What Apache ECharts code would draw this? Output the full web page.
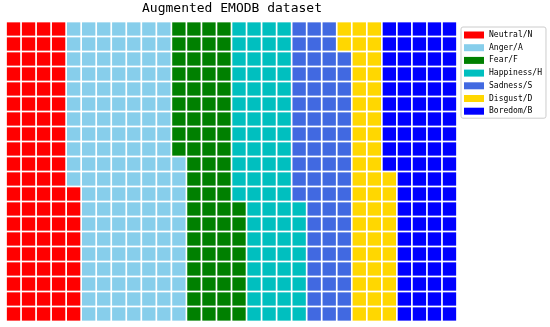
<!DOCTYPE html>
<html>
<head>
<meta charset="utf-8">
<script src="https://cdn.jsdelivr.net/npm/echarts@6/dist/echarts.min.js"></script>
<style>
  html, body { margin: 0; padding: 0; background: #fff; }
  #main { width: 550px; height: 327px; }
</style>
</head>
<body>
<div id="main"></div>
<script>
// waffle: 30 columns x 20 rows, filled column by column from bottom-left
const categories = ['Neutral/N', 'Anger/A', 'Fear/F', 'Happiness/H', 'Sadness/S', 'Disgust/D', 'Boredom/B']
const counts = [89, 142, 77, 80, 70, 52, 90]
const colors = ['#ff0000', '#87ceeb', '#008000', '#00bfbf', '#4169e1', '#ffd700', '#0000ff']
const nRows = 20
const nCols = 30

const myChart = echarts.init(document.getElementById('main'))

// split block indices into cells per category
const cells = []
let idx = 0
counts.forEach(function (c) {
  const arr = []
  for (let k = 0; k < c; k++) {
    arr.push([Math.floor(idx / nRows), idx % nRows])
    idx++
  }
  cells.push(arr)
})

const renderCell = function (params, api) {
  const col = api.value(0)
  const row = api.value(1)
  const p0 = api.coord([col, row + 1])
  const p1 = api.coord([col + 1, row])
  const g = 0.85
  return {
    type: 'rect',
    shape: { x: p0[0] + g, y: p0[1] + g, width: p1[0] - p0[0] - 2 * g, height: p1[1] - p0[1] - 2 * g },
    style: { fill: api.visual('color') }
  }
}

myChart.setOption({
  animation: false,
  title: {
    text: 'Augmented EMODB dataset',
    left: 232,
    top: 2,
    padding: 0,
    textAlign: 'center',
    textStyle: { fontFamily: 'DejaVu Sans Mono', fontSize: 13, fontWeight: 'normal', color: '#000' }
  },
  legend: {
    orient: 'vertical',
    left: 461,
    top: 27,
    padding: [4, 4, 3, 3],
    itemWidth: 20,
    itemHeight: 7,
    itemGap: 4.7,
    icon: 'rect',
    borderColor: '#cccccc',
    borderWidth: 1,
    borderRadius: 2,
    textStyle: { fontFamily: 'DejaVu Sans Mono', fontSize: 8, color: '#000', lineHeight: 8 },
    data: categories
  },
  grid: { left: 6, top: 21.5, width: 451, height: 300 },
  xAxis: { type: 'value', min: 0, max: nCols, show: false },
  yAxis: { type: 'value', min: 0, max: nRows, show: false },
  series: categories.map(function (name, i) {
    return {
      name: name,
      type: 'custom',
      renderItem: renderCell,
      itemStyle: { color: colors[i] },
      encode: { x: 0, y: 1 },
      data: cells[i]
    }
  })
})
</script>
</body>
</html>
